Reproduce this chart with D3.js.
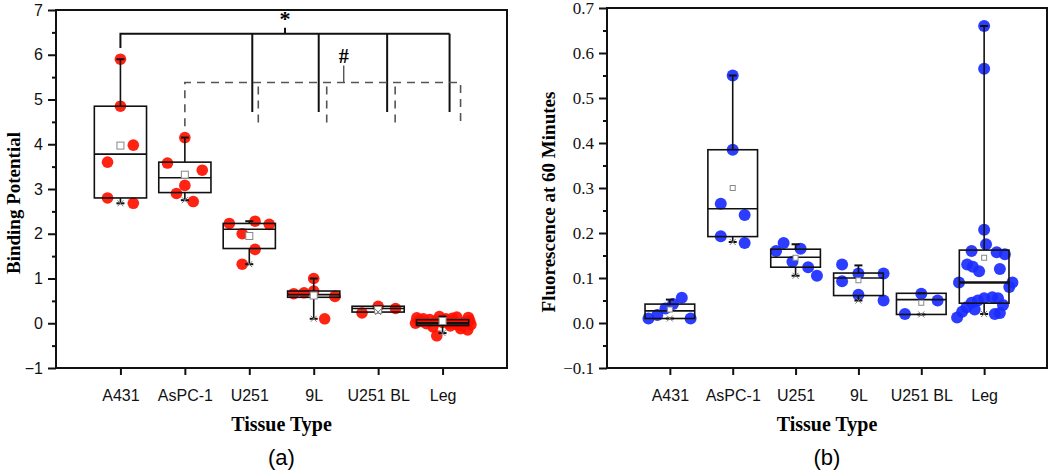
<!DOCTYPE html>
<html><head><meta charset="utf-8">
<script src="https://cdn.jsdelivr.net/npm/d3@7"></script>
<style>
body{margin:0;background:#fff;}
svg{display:block;}
.tick text{fill:#111;}
</style></head>
<body><svg id="c" width="1050" height="472"></svg>
<script>
// ---------- DATA ----------
const categories = ["A431","AsPC-1","U251","9L","U251 BL","Leg"];

// Panel (a): Binding Potential
const aTicks = [-1,0,1,2,3,4,5,6,7];
const aQ1     = [2.80, 2.92, 1.67, 0.58, 0.25, -0.05];
const aMedian = [3.78, 3.25, 2.10, 0.64, 0.33, 0.00];
const aQ3     = [4.85, 3.60, 2.23, 0.72, 0.38, 0.08];
const aLow    = [2.68, 2.75, 1.32, 0.10, 0.25, -0.22];
const aHigh   = [5.90, 4.15, 2.28, 1.00, 0.38, 0.15];
const aMean   = [3.97, 3.32, 1.95, 0.62, 0.30, 0.05];
const aPoints = [
  [5.90, 4.85, 3.98, 3.60, 2.80, 2.68],
  [4.15, 3.58, 3.42, 3.08, 2.90, 2.72],
  [2.23, 2.28, 2.21, 2.00, 1.65, 1.32],
  [1.00, 0.66, 0.68, 0.72, 0.60, 0.10],
  [0.23, 0.38, 0.33],
  [0.12, 0.10, 0.08, 0.05, 0.02, 0.00, -0.02, -0.05, 0.13, 0.15, 0.11, 0.07, 0.03, -0.01, -0.04, -0.08, 0.10, 0.06, 0.00, -0.12, -0.15, -0.28, -0.06, 0.14, 0.04, -0.03]
];
const aJitter = [
  [0, 0, 0.20, -0.20, -0.20, 0.20],
  [0, -0.27, 0.27, 0, -0.13, 0.13],
  [-0.31, 0.09, 0.31, -0.11, 0.09, -0.11],
  [0, -0.31, -0.15, 0, 0.33, 0.17],
  [-0.25, 0, 0.27],
  [-0.40, -0.30, -0.20, -0.10, 0.00, 0.10, 0.20, 0.30, 0.40, -0.05, 0.15, -0.35, 0.35, -0.25, 0.25, -0.15, 0.05, 0.42, -0.42, 0.28, 0.39, -0.09, 0.12, 0.22, -0.33, 0.44]
];

// Panel (b): Fluorescence at 60 Minutes
const bTicks = [-0.1,0.0,0.1,0.2,0.3,0.4,0.5,0.6,0.7];
const bQ1     = [0.010, 0.192, 0.124, 0.061, 0.019, 0.044];
const bMedian = [0.027, 0.254, 0.146, 0.100, 0.052, 0.090];
const bQ3     = [0.042, 0.385, 0.164, 0.111, 0.066, 0.162];
const bLow    = [0.010, 0.180, 0.105, 0.050, 0.019, 0.020];
const bHigh   = [0.052, 0.550, 0.175, 0.128, 0.066, 0.660];
const bMean   = [0.030, 0.300, 0.145, 0.095, 0.045, 0.145];
const bPoints = [
  [0.010, 0.018, 0.032, 0.042, 0.056, 0.010],
  [0.550, 0.385, 0.265, 0.240, 0.193, 0.178],
  [0.160, 0.178, 0.165, 0.136, 0.124, 0.105],
  [0.130, 0.093, 0.110, 0.063, 0.110, 0.050],
  [0.020, 0.065, 0.050],
  [0.660, 0.565, 0.207, 0.175, 0.160, 0.157, 0.153, 0.130, 0.125, 0.115, 0.120, 0.090, 0.090, 0.080, 0.057, 0.055, 0.055, 0.050, 0.045, 0.040, 0.035, 0.030, 0.025, 0.020, 0.022, 0.012]
];
const bJitter = [
  [-0.34, -0.20, -0.07, 0.05, 0.19, 0.33],
  [0, 0, -0.19, 0.19, -0.19, 0.19],
  [-0.31, -0.19, 0.08, -0.05, 0.20, 0.34],
  [-0.26, -0.26, 0, 0, 0.40, 0.40],
  [-0.26, 0, 0.26],
  [0, 0, 0, 0.03, -0.20, 0.20, 0.33, -0.27, -0.18, -0.08, 0.25, -0.40, 0.45, 0.40, 0.13, 0.00, 0.22, -0.10, -0.20, 0.30, -0.28, -0.15, -0.35, 0.17, 0.25, -0.43]
];

// ---------- DRAW ----------
const svg = d3.select("#c");
const sans = "'Liberation Sans', Arial, sans-serif";
const serif = "'Liberation Serif', 'Times New Roman', serif";

function panel(o){
  const g = svg.append("g");
  const x = d3.scalePoint().domain(categories).range([o.x0, o.x1]).padding(1);
  const y = d3.scaleLinear().domain(o.domain).range([o.y1, o.y0]);
  const step = x.step();
  const bw = step * o.boxFrac;

  // points
  categories.forEach((c,i)=>{
    g.append("g").selectAll("circle").data(o.points[i]).join("circle")
      .attr("cx",(d,j)=>x(c) + o.jitter[i][j]*step)
      .attr("cy",d=>y(d))
      .attr("r",o.r)
      .attr("fill",o.color)
      .attr("fill-opacity",0.92);
  });

  // boxes
  categories.forEach((c,i)=>{
    const cx = x(c);
    const bg = g.append("g").attr("stroke","#111").attr("fill","none");
    bg.append("line").attr("x1",cx).attr("x2",cx).attr("y1",y(o.high[i])).attr("y2",y(o.q3[i])).attr("stroke-width",1.6);
    bg.append("line").attr("x1",cx).attr("x2",cx).attr("y1",y(o.q1[i])).attr("y2",y(o.low[i])).attr("stroke-width",1.6);
    bg.append("line").attr("x1",cx-4).attr("x2",cx+4).attr("y1",y(o.high[i])).attr("y2",y(o.high[i])).attr("stroke-width",2);
    bg.append("line").attr("x1",cx-4).attr("x2",cx+4).attr("y1",y(o.low[i])).attr("y2",y(o.low[i])).attr("stroke-width",2);
    bg.append("rect").attr("x",cx-bw/2).attr("width",bw)
      .attr("y",y(o.q3[i])).attr("height",Math.max(1,y(o.q1[i])-y(o.q3[i])))
      .attr("stroke-width",1.6);
    bg.append("line").attr("x1",cx-bw/2).attr("x2",cx+bw/2)
      .attr("y1",y(o.median[i])).attr("y2",y(o.median[i])).attr("stroke-width",i===5?2.6:1.6);
    // mean marker
    const s = o.meanSize;
    g.append("rect").attr("x",cx-s/2).attr("y",y(o.mean[i])-s/2).attr("width",s).attr("height",s)
      .attr("fill","#fff").attr("stroke","#888").attr("stroke-width",1);
    // small x markers at the low end
    g.append("path").attr("d",`M${cx-3},${y(o.low[i])-3}L${cx+3},${y(o.low[i])+3}M${cx+3},${y(o.low[i])-3}L${cx-3},${y(o.low[i])+3}`)
      .attr("stroke","#777").attr("stroke-width",1);
  });

  // axes
  const yAx = g.append("g").attr("transform",`translate(${o.x0},0)`)
    .call(d3.axisLeft(y).tickValues(o.ticks).tickSize(8).tickPadding(5).tickFormat(o.fmt));
  yAx.selectAll("text").attr("font-family",o.yFont).attr("font-size",o.yFontSize);
  const minor = [];
  for(let k=0;k<o.ticks.length-1;k++) minor.push((o.ticks[k]+o.ticks[k+1])/2);
  g.append("g").attr("transform",`translate(${o.x0},0)`)
    .call(d3.axisLeft(y).tickValues(minor).tickSize(4).tickFormat(""));
  const xAx = g.append("g").attr("transform",`translate(0,${o.y1})`)
    .call(d3.axisBottom(x).tickSize(7).tickPadding(15));
  xAx.selectAll("text").attr("font-family",sans).attr("font-size",16);
  g.selectAll(".domain").remove();
  g.selectAll(".tick line").attr("stroke","#111").attr("stroke-width",2);
  g.append("rect").attr("x",o.x0).attr("y",o.y0).attr("width",o.x1-o.x0).attr("height",o.y1-o.y0)
    .attr("fill","none").attr("stroke","#111").attr("stroke-width",2);

  // titles
  g.append("text").attr("x",(o.x0+o.x1)/2).attr("y",431).attr("text-anchor","middle")
    .attr("font-family",serif).attr("font-weight","bold").attr("font-size",20).text("Tissue Type");
  g.append("text").attr("transform",`translate(${o.yLabelX},${(o.y0+o.y1)/2+14}) rotate(-90)`)
    .attr("text-anchor","middle").attr("font-family",serif).attr("font-weight","bold").attr("font-size",19).text(o.yLabel);
  g.append("text").attr("x",(o.x0+o.x1)/2).attr("y",465).attr("text-anchor","middle")
    .attr("font-family",sans).attr("font-size",22).text(o.tag);
  return {g,x,y};
}

const A = panel({x0:56,x1:507,y0:10,y1:368,domain:[-1,7],ticks:aTicks,fmt:d3.format("d"),yFont:sans,yFontSize:16,
  q1:aQ1,median:aMedian,q3:aQ3,low:aLow,high:aHigh,mean:aMean,points:aPoints,jitter:aJitter,
  color:"#ff1000",r:5.8,boxFrac:0.81,meanSize:7,yLabel:"Binding Potential",yLabelX:20,tag:"(a)"});

const B = panel({x0:607,x1:1047,y0:8,y1:368,domain:[-0.1,0.7],ticks:bTicks,fmt:d3.format(".1f"),yFont:serif,yFontSize:17,
  q1:bQ1,median:bMedian,q3:bQ3,low:bLow,high:bHigh,mean:bMean,points:bPoints,jitter:bJitter,
  color:"#1a2cff",r:6,boxFrac:0.79,meanSize:5,yLabel:"Fluorescence at 60 Minutes",yLabelX:555,tag:"(b)"});

// significance brackets on panel (a)
{
  const g = A.g, x = A.x, y = A.y;
  const solidY = y(6.47), solidDrop = y(4.72);
  const solidOff = {"U251":3,"9L":5,"U251 BL":9,"Leg":7};
  const gs = g.append("g").attr("stroke","#111").attr("stroke-width",2).attr("fill","none");
  gs.append("path").attr("d",`M${x("A431")},${y(6.15)}V${solidY}H${x("Leg")+solidOff["Leg"]}`);
  Object.keys(solidOff).forEach(k=>{
    gs.append("line").attr("x1",x(k)+solidOff[k]).attr("x2",x(k)+solidOff[k]).attr("y1",solidY).attr("y2",solidDrop);
  });
  const starX = (x("A431")+x("Leg")+7)/2;
  gs.append("line").attr("x1",starX).attr("x2",starX).attr("y1",solidY).attr("y2",solidY-6);
  g.append("text").attr("x",starX).attr("y",26).attr("text-anchor","middle")
    .attr("font-family",serif).attr("font-weight","bold").attr("font-size",22).text("*");

  const dashY = y(5.38), dashDrop = y(4.4);
  const dashOff = {"U251":9,"9L":13,"U251 BL":17,"Leg":18};
  const gd = g.append("g").attr("stroke","#555").attr("stroke-width",1.6).attr("fill","none").attr("stroke-dasharray","8,6");
  gd.append("path").attr("d",`M${x("AsPC-1")},${dashDrop}V${dashY}H${x("Leg")+dashOff["Leg"]}V${dashDrop}`);
  Object.keys(dashOff).forEach(k=>{
    if(k==="Leg") return;
    gd.append("line").attr("x1",x(k)+dashOff[k]).attr("x2",x(k)+dashOff[k]).attr("y1",dashY+4).attr("y2",dashDrop);
  });
  const hashX = x("9L")+30;
  g.append("line").attr("x1",hashX).attr("x2",hashX).attr("y1",dashY).attr("y2",dashY-17).attr("stroke","#555").attr("stroke-width",1.4);
  g.append("text").attr("x",hashX).attr("y",63).attr("text-anchor","middle")
    .attr("font-family",serif).attr("font-weight","bold").attr("font-size",20).text("#");
}
</script></body></html>
